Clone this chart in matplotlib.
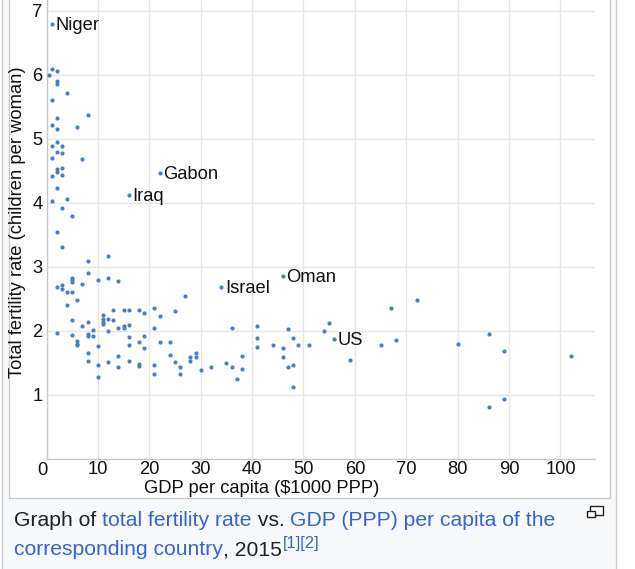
import numpy as np
import matplotlib
matplotlib.use("Agg")
from matplotlib import pyplot as plt
from matplotlib.patches import Rectangle

# GDP per capita ($1000 PPP) and total fertility rate
gdp = [1, 2, 0.4, 2, 2, 4, 1, 8, 2, 1, 6, 2, 2, 1, 3, 2, 3, 1, 7, 3, 2, 2, 3, 1,
       2, 4, 1, 3, 5, 2, 3,
       12, 8, 8, 12, 10, 5, 5, 5, 14, 7, 2, 3, 3, 4, 5,
       27, 6, 4, 25, 11, 13, 15, 16, 18, 19, 21, 22, 11, 12, 13, 11, 11, 5, 8, 7,
       15, 15, 16, 14, 21, 9, 12, 2, 5, 8, 8, 9, 16, 19, 6, 6, 6, 18, 22, 24,
       10, 16, 19,
       36, 41, 41, 47, 48, 41, 44, 46, 49, 51,
       8, 8, 10, 12, 14, 14, 16, 18, 18, 21, 21, 24, 25, 26, 26, 28, 28, 29, 29,
       30, 32, 35, 36, 37, 38, 38, 46, 47, 48, 48, 10,
       54, 55, 59, 65, 67, 68, 72, 80, 86, 89, 102, 86, 89]
tfr = [6.09, 6.06, 6.00, 5.90, 5.86, 5.72, 5.60, 5.37, 5.33, 5.21, 5.19, 5.15,
       4.95, 4.89, 4.89, 4.80, 4.77, 4.70, 4.68, 4.55, 4.52, 4.48, 4.44, 4.42,
       4.23, 4.06, 4.03, 3.91, 3.79, 3.54, 3.31,
       3.17, 3.09, 2.90, 2.83, 2.80, 2.83, 2.79, 2.76, 2.78, 2.73, 2.69, 2.71,
       2.65, 2.60, 2.60,
       2.55, 2.48, 2.40, 2.31, 2.25, 2.33, 2.33, 2.32, 2.33, 2.28, 2.35, 2.23,
       2.19, 2.19, 2.17, 2.14, 2.10, 2.16, 2.13, 2.08,
       2.07, 2.05, 2.09, 2.04, 2.05, 2.01, 1.99, 1.97, 1.94, 1.95, 1.91, 1.91,
       1.90, 1.91, 1.84, 1.80, 1.78, 1.83, 1.82, 1.82,
       1.76, 1.77, 1.73,
       2.04, 2.08, 1.89, 2.02, 1.88, 1.75, 1.78, 1.73, 1.78, 1.78,
       1.65, 1.53, 1.47, 1.51, 1.60, 1.43, 1.52, 1.475, 1.45, 1.46, 1.33, 1.615,
       1.51, 1.43, 1.33, 1.59, 1.52, 1.65, 1.59,
       1.39, 1.44, 1.50, 1.43, 1.25, 1.61, 1.40, 1.59, 1.44, 1.46, 1.12, 1.28,
       1.99, 2.12, 1.55, 1.77, 2.35, 1.86, 2.48, 1.80, 1.95, 1.69, 1.61, 0.81, 0.94]

names = ["Niger", "Gabon", "Iraq", "Israel", "Oman", "US"]
name_gdp = [1, 22, 16, 34, 46, 56]
name_tfr = [6.79, 4.46, 4.12, 2.68, 2.86, 1.87]

xticks = [10, 20, 30, 40, 50, 60, 70, 80, 90, 100]
yticks = [1, 2, 3, 4, 5, 6, 7]

caption1 = [("Graph of ", "dark"), ("total fertility rate", "link"), (" vs. ", "dark"),
            ("GDP (PPP) per capita of the", "link")]
caption2 = [("corresponding country", "link"), (", 2015", "dark")]
caption_refs = "[1][2]"

W, H = 635, 569
plt.rcParams['font.family'] = ['Liberation Sans', 'DejaVu Sans']

fig = plt.figure(figsize=(W / 100, H / 100), dpi=100)
fig.patch.set_facecolor('white')


def fx(px):
    return px / W


def fy(py):
    return 1 - py / H


# thumbnail frame (outer box with caption, inner white image box)
fig.add_artist(Rectangle((fx(1.5), fy(575)), fx(615.5) - fx(1.5), fy(-5) - fy(575),
                         transform=fig.transFigure, facecolor='#f8f9fa',
                         edgecolor='#c8ccd1', lw=1, zorder=-20))
fig.add_artist(Rectangle((fx(9), fy(498)), fx(609.5) - fx(9), fy(-5) - fy(498),
                         transform=fig.transFigure, facecolor='white',
                         edgecolor='#c8ccd1', lw=1, zorder=-10))

fs = 13.2
ink = '#111111'
x0, x1 = 46.5, 595
y0 = 458.7
ax = fig.add_axes([fx(x0), fy(y0), fx(x1) - fx(x0), y0 / H])
ax.set_facecolor('none')
ax.set_xlim(0, (x1 - x0) / 5.14)
ax.set_ylim(0, y0 / 64)

ax.scatter(gdp + name_gdp, tfr + name_tfr, s=9, color='#4a7fc4', lw=0, zorder=3)
for n, gx, ty in zip(names, name_gdp, name_tfr):
    ax.annotate(n, (gx, ty), xytext=(3.5, -6), textcoords='offset pixels',
                va='baseline', ha='left', fontsize=fs, color=ink)

ax.set_xticks(xticks)
ax.set_yticks(yticks)
ax.tick_params(length=0, labelsize=fs, labelcolor=ink)
ax.tick_params(axis='x', pad=2)
ax.tick_params(axis='y', pad=3)
ax.grid(True, color='#e6e6e6', lw=1.0)
ax.set_axisbelow(True)
for s in ['top', 'right']:
    ax.spines[s].set_visible(False)
for s in ['left', 'bottom']:
    ax.spines[s].set_color('#c8c8c8')
    ax.spines[s].set_linewidth(1.0)
ax.annotate('0', (0, 0), xytext=(-4, -3), textcoords='offset pixels',
            ha='center', va='top', fontsize=fs, color=ink)

fig.text(fx(262), fy(493), 'GDP per capita ($1000 PPP)', ha='center',
         va='baseline', fontsize=fs, color=ink)
fig.text(fx(18), fy(222), 'Total fertility rate (children per woman)',
         rotation=90, ha='center', va='center', fontsize=fs, color=ink)

# caption, pieces laid side by side
colors = {'dark': '#202122', 'link': '#3366cc'}
cap = 15.2
renderer = fig.canvas.get_renderer()


def put_line(pieces, px, py):
    for txt, c in pieces:
        t = fig.text(fx(px), fy(py), txt, color=colors[c], fontsize=cap, va='baseline')
        px += t.get_window_extent(renderer).width
    return px


put_line(caption1, 14, 526)
end = put_line(caption2, 14, 555)
fig.text(fx(end + 1), fy(548), caption_refs, color=colors['link'], fontsize=12,
         va='baseline')

# magnify icon
fig.add_artist(Rectangle((fx(589.5), fy(515)), fx(602.5) - fx(589.5), fy(505.5) - fy(515),
                         transform=fig.transFigure, facecolor='white',
                         edgecolor='#222222', lw=1))
fig.add_artist(Rectangle((fx(587), fy(516.7)), fx(595) - fx(587), fy(511) - fy(516.7),
                         transform=fig.transFigure, facecolor='white',
                         edgecolor='#222222', lw=1))

fig.savefig('out.png', dpi=100)
